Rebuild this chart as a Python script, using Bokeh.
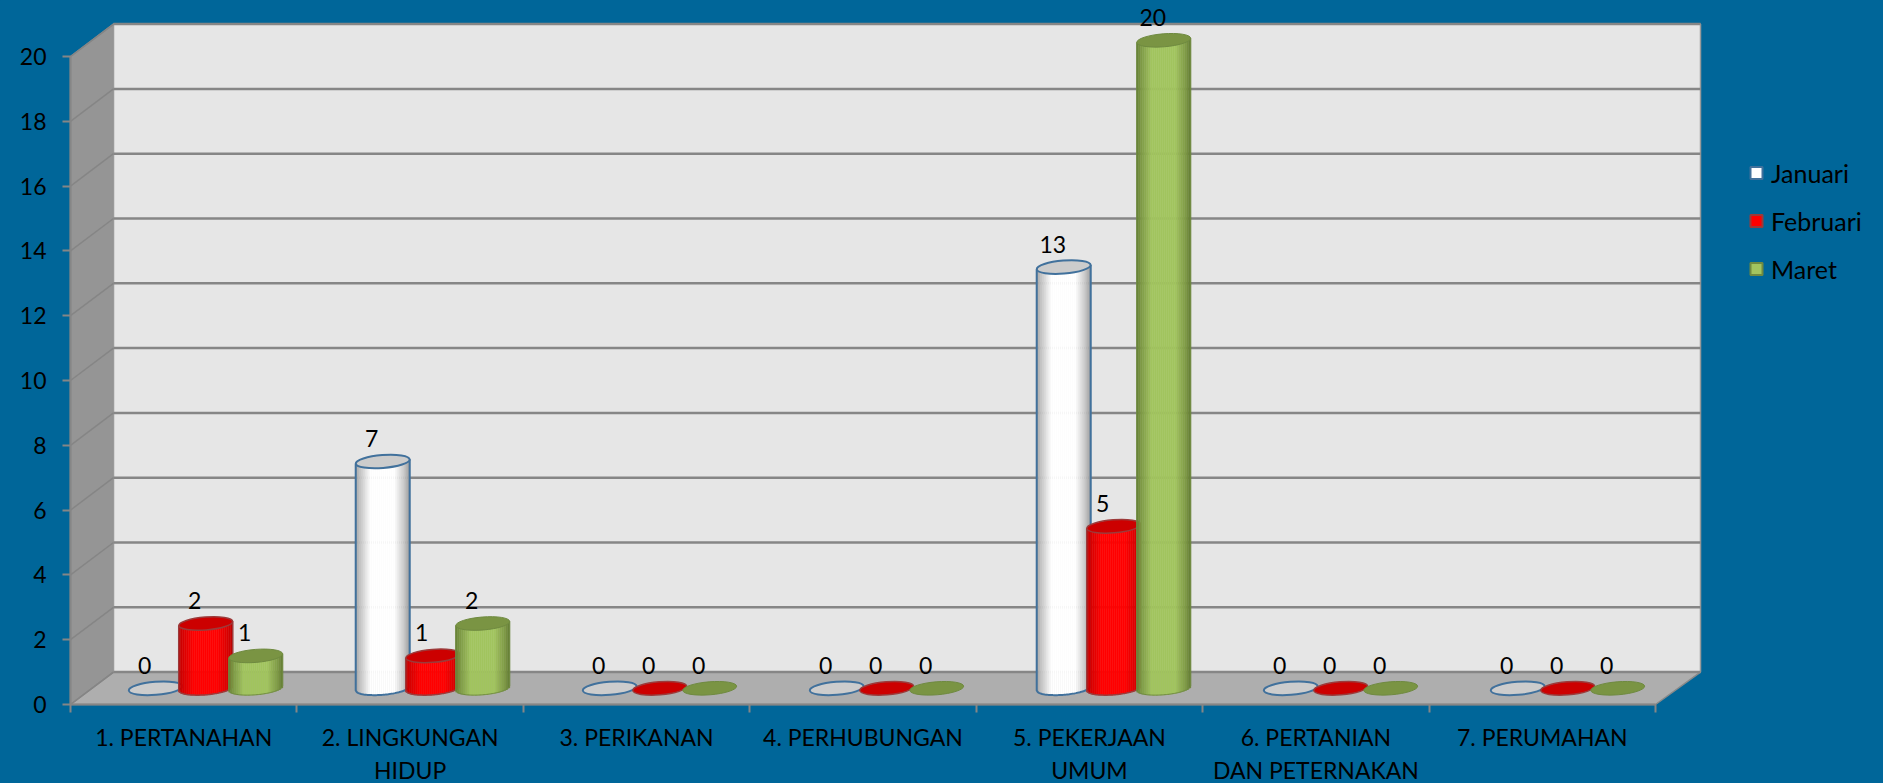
from bokeh.embed import file_html
from bokeh.resources import INLINE
from bokeh.plotting import figure
from bokeh.core.properties import value
from bokeh.models import Range1d, LinearAxis, FixedTicker, Legend, LegendItem
import numpy as np

# ---- chart data ----
categories = ["1. PERTANAHAN", "2. LINGKUNGAN\nHIDUP", "3. PERIKANAN", "4. PERHUBUNGAN",
              "5. PEKERJAAN\nUMUM", "6. PERTANIAN\nDAN PETERNAKAN", "7. PERUMAHAN"]
series_names = ["Januari", "Februari", "Maret"]
januari = [0, 7, 0, 0, 13, 0, 0]
februari = [2, 1, 0, 0, 5, 0, 0]
maret = [1, 2, 0, 0, 20, 0, 0]
y_ticks = list(range(0, 21, 2))

# ---- layout / style ----
W, H = 1883, 783
BG = "#006699"
FONT = "Lato"
FS = "23px"
X0_PX, Y0_PX = 70, 704          # where data (0, 0) falls
PX_CAT, PX_VAL = 226.43, 32.4   # pixels per category / per value unit
DEPTH_X, DEPTH_XR, DEPTH_Y = 43 / PX_CAT, 45 / PX_CAT, 1.0   # wall depth in data units
SHIFT_PX = 22.0                 # bars stand mid-depth, horizontally
BAR_STEP = 227.0 / PX_CAT
RAD_X, RAD_Y, TILT = 27.0, 6.5, 0.08
SPACING_PX = 50.0
styles = [
    dict(bright="#ffffff", edge="#9c9c9c", top="#cccccc", line="#41719c", lw=2.0),
    dict(bright="#ff0000", edge="#bc0000", top="#cc0000", line="#9c3a3a", lw=1.5),
    dict(bright="#a2c45f", edge="#647d34", top="#7a9443", line="#6f8a40", lw=1.0),
]
SHADE_POS = [0, .07, .28, .72, .9, 1]
SHADE_AMT = [1, .65, 0, 0, .55, 1]
STRIPS = 27


def rgb(h):
    return np.array([int(h[i:i + 2], 16) for i in (1, 3, 5)], float)


def mix(a, b, t):
    c = rgb(a) * (1 - t) + rgb(b) * t
    return "#%02x%02x%02x" % tuple(int(round(v)) for v in c)


p = figure(width=W, height=H, output_backend="svg", toolbar_location=None, min_border=0,
           x_axis_type=None, y_axis_type=None,
           x_range=Range1d(-X0_PX / PX_CAT, (W - X0_PX) / PX_CAT),
           y_range=Range1d(-(H - Y0_PX) / PX_VAL, Y0_PX / PX_VAL),
           background_fill_color=BG, border_fill_color=BG, outline_line_color=None)

ncat = len(categories)
top_v = max(y_ticks)

# walls
p.patch([0, 0, DEPTH_X, DEPTH_X], [0, top_v, top_v + DEPTH_Y, DEPTH_Y],
        fill_color="#959595", line_color="#8a8a8a", line_width=1.5)
p.patch([0, ncat, ncat + DEPTH_XR, DEPTH_X], [0, 0, DEPTH_Y, DEPTH_Y],
        fill_color="#aeaeae", line_color="#8a8a8a", line_width=1.5)
p.patch([DEPTH_X, ncat + DEPTH_XR, ncat + DEPTH_XR, DEPTH_X],
        [DEPTH_Y, DEPTH_Y, top_v + DEPTH_Y, top_v + DEPTH_Y],
        fill_color="#e6e6e6", line_color="#9a9a9a", line_width=1.5)
p.segment([DEPTH_X] * len(y_ticks), [v + DEPTH_Y for v in y_ticks],
          [ncat + DEPTH_XR] * len(y_ticks), [v + DEPTH_Y for v in y_ticks],
          line_color="#868686", line_width=2.5)
p.segment([0] * len(y_ticks), y_ticks, [DEPTH_X] * len(y_ticks),
          [v + DEPTH_Y for v in y_ticks], line_color="#858585", line_width=1.5)

# cylinders
lab_x, lab_y, lab_t = [], [], []
u_edges = np.linspace(-RAD_X, RAD_X, STRIPS + 1)
for s, vals in enumerate([januari, februari, maret]):
    st = styles[s]
    ex, ey = [], []
    for c, v in enumerate(vals):
        cx = c * BAR_STEP + 0.5 + (SHIFT_PX + (s - 1) * SPACING_PX) / PX_CAT
        base = DEPTH_Y / 2
        ex.append(cx)
        ey.append(base + v)
        lab_x.append(cx)
        lab_y.append(base + v)
        lab_t.append(str(v))
        if v == 0:
            continue
        um = (u_edges[:-1] + u_edges[1:]) / 2
        low = (um * np.tan(TILT) - RAD_Y * np.sqrt(np.maximum(0, 1 - (um / RAD_X) ** 2))) / PX_VAL
        hi = um * np.tan(TILT) / PX_VAL
        amt = np.interp((um + RAD_X) / (2 * RAD_X), SHADE_POS, SHADE_AMT)
        cols = [mix(st["bright"], st["edge"], a) for a in amt]
        p.quad(left=cx + u_edges[:-1] / PX_CAT, right=cx + u_edges[1:] / PX_CAT,
               bottom=base + low, top=base + v + hi, fill_color=cols, line_color=cols, line_width=0.5)
        uu = np.linspace(-RAD_X, RAD_X, 41)
        arc = (uu * np.tan(TILT) - RAD_Y * np.sqrt(np.maximum(0, 1 - (uu / RAD_X) ** 2))) / PX_VAL
        tl = base + v - RAD_X * np.tan(TILT) / PX_VAL
        tr = base + v + RAD_X * np.tan(TILT) / PX_VAL
        xs = [cx - RAD_X / PX_CAT] + list(cx + uu / PX_CAT) + [cx + RAD_X / PX_CAT]
        ys = [tl] + list(base + arc) + [tr]
        p.line(xs, ys, line_color=st["line"], line_width=st["lw"])
    p.ellipse(ex, ey, width=2 * RAD_X, height=2 * RAD_Y, angle=TILT,
              width_units="screen", height_units="screen",
              fill_color=st["top"], line_color=st["line"], line_width=st["lw"])

# data labels
p.text(lab_x, lab_y, text=lab_t, x_offset=-11, y_offset=-23, text_align="center",
       text_baseline="middle", text_font=value(FONT), text_font_size=FS, text_color="#000000")

# axes
AX = "#868686"
yax = LinearAxis(fixed_location=0, ticker=FixedTicker(ticks=y_ticks), bounds=(0, top_v),
                 axis_line_color=AX, axis_line_width=2, major_tick_line_color=AX,
                 major_tick_line_width=2, major_tick_in=0, major_tick_out=8,
                 minor_tick_line_color=None, major_label_standoff=16,
                 major_label_text_font=FONT, major_label_text_font_size=FS,
                 major_label_text_color="#000000")
p.add_layout(yax, "left")
xax = LinearAxis(fixed_location=0, ticker=FixedTicker(ticks=list(range(ncat + 1))), bounds=(0, ncat),
                 axis_line_color=AX, axis_line_width=2, major_tick_line_color=AX,
                 major_tick_line_width=2, major_tick_in=0, major_tick_out=8,
                 minor_tick_line_color=None, major_label_text_color=None)
p.add_layout(xax, "below")
cax = LinearAxis(fixed_location=0, ticker=FixedTicker(ticks=[i + 0.5 for i in range(ncat)]),
                 major_label_overrides={i + 0.5: t for i, t in enumerate(categories)},
                 axis_line_color=None, major_tick_line_color=None, minor_tick_line_color=None,
                 major_tick_in=0, major_tick_out=0, major_label_standoff=18,
                 major_label_text_font=FONT, major_label_text_font_size=FS,
                 major_label_text_color="#000000", major_label_text_align="center")
p.add_layout(cax, "below")

# legend
items = []
nan = float("nan")
for name, st in zip(series_names, styles):
    r = p.scatter(x=[nan], y=[nan], marker="square", size=14,
                  fill_color=st["bright"], line_color=st["line"], line_width=2)
    items.append(LegendItem(label=name, renderers=[r]))
legend = Legend(items=items, location=(1741, H - 286), orientation="vertical",
                background_fill_alpha=0, border_line_color=None, padding=0, margin=0,
                spacing=13, glyph_width=30, glyph_height=35, label_height=35, label_standoff=0,
                label_text_font=FONT, label_text_font_size="25px", label_text_color="#000000")
p.add_layout(legend, "center")

html = file_html(p, INLINE)
html = html.replace("</head>", "<style>html,body{margin:0;background:%s;overflow:hidden}</style></head>" % BG, 1)
open("out.html", "w").write(html)
